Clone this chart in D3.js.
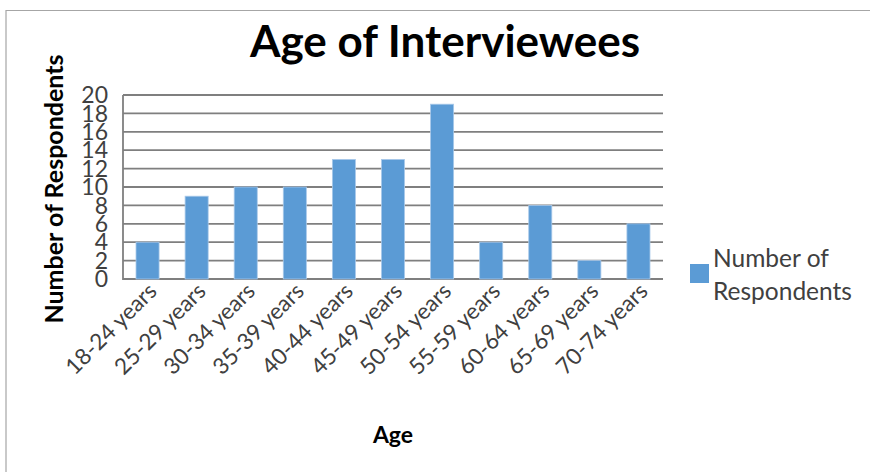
<!DOCTYPE html>
<html>
<head>
<meta charset="utf-8">
<script src="https://cdn.jsdelivr.net/npm/d3@7"></script>
<style>
  body { margin: 0; background: #fff; }
  svg { display: block; }
</style>
</head>
<body>
<svg></svg>
<script>
const [WIDTH, HEIGHT] = [870, 472]

// data
const ageGroups = ["18-24 years", "25-29 years", "30-34 years", "35-39 years", "40-44 years",
    "45-49 years", "50-54 years", "55-59 years", "60-64 years", "65-69 years", "70-74 years"]
const respondents = [4, 9, 10, 10, 13, 13, 19, 4, 8, 2, 6]
const yTicks = [0, 2, 4, 6, 8, 10, 12, 14, 16, 18, 20]
const seriesName = ["Number of", "Respondents"]

const FONT = "Lato, 'Open Sans', sans-serif"
const BAR = "#5b9bd5"
const GRID = "#7f7f7f"

const svg = d3.select("svg")
    .attr("width", WIDTH)
    .attr("height", HEIGHT)
    .style("font-family", FONT)

// outer chart frame (only top and left edge visible)
svg.append("path")
    .attr("d", "M6,480 V10.5 H880")
    .attr("fill", "none")
    .attr("stroke", "#a6a6a6")
    .attr("stroke-width", 1.2)

const plot = { left: 123, right: 663, top: 95, bottom: 279 }

const x = d3.scaleBand()
    .domain(ageGroups)
    .range([plot.left, plot.right])
    .paddingInner(0.53)
    .paddingOuter(0.265)

const y = d3.scaleLinear()
    .domain([0, 20])
    .range([plot.bottom, plot.top])

// gridlines
svg.append("g")
    .selectAll("line")
    .data(yTicks)
    .join("line")
    .attr("x1", plot.left)
    .attr("x2", plot.right)
    .attr("y1", d => y(d))
    .attr("y2", d => y(d))
    .attr("stroke", GRID)
    .attr("stroke-width", 1.8)

// left axis line
svg.append("line")
    .attr("x1", plot.left).attr("x2", plot.left)
    .attr("y1", plot.top).attr("y2", plot.bottom + 1)
    .attr("stroke", GRID)
    .attr("stroke-width", 1.8)

// y tick labels
svg.append("g")
    .selectAll("text")
    .data(yTicks)
    .join("text")
    .attr("x", 108)
    .attr("y", d => y(d))
    .attr("dy", "0.36em")
    .attr("text-anchor", "end")
    .attr("font-size", 23)
    .attr("fill", "#404040")
    .text(d => d)

// bars
svg.append("g")
    .selectAll("rect")
    .data(respondents)
    .join("rect")
    .attr("x", (d, i) => x(ageGroups[i]))
    .attr("y", d => y(d))
    .attr("width", x.bandwidth())
    .attr("height", d => y(0) - y(d))
    .attr("fill", BAR)
    .attr("stroke", "#a9c9ea")
    .attr("stroke-width", 0.8)

// x labels, rotated
svg.append("g")
    .selectAll("text")
    .data(ageGroups)
    .join("text")
    .attr("transform", d => `translate(${x(d) + x.bandwidth() / 2 + 5},${plot.bottom + 8}) rotate(-45)`)
    .attr("text-anchor", "end")
    .attr("dy", "0.35em")
    .attr("font-size", 22.5)
    .attr("fill", "#404040")
    .text(d => d)

// title
svg.append("text")
    .attr("x", 445)
    .attr("y", 57)
    .attr("text-anchor", "middle")
    .attr("font-size", 44)
    .attr("font-weight", "bold")
    .attr("fill", "#000")
    .text("Age of Interviewees")

// axis titles
svg.append("text")
    .attr("transform", "translate(63,189) rotate(-90)")
    .attr("text-anchor", "middle")
    .attr("font-size", 25)
    .attr("font-weight", "bold")
    .attr("fill", "#000")
    .text("Number of Respondents")

svg.append("text")
    .attr("x", 393)
    .attr("y", 443)
    .attr("text-anchor", "middle")
    .attr("font-size", 23)
    .attr("font-weight", "bold")
    .attr("fill", "#000")
    .text("Age")

// legend
const legend = svg.append("g")
legend.append("rect")
    .attr("x", 690).attr("y", 264)
    .attr("width", 19).attr("height", 19)
    .attr("fill", BAR)
legend.append("text")
    .attr("x", 713)
    .attr("y", 267)
    .attr("font-size", 24.5)
    .attr("fill", "#404040")
    .selectAll("tspan")
    .data(seriesName)
    .join("tspan")
    .attr("x", 713)
    .attr("dy", (d, i) => i ? 33 : 0)
    .text(d => d)
</script>
</body>
</html>
